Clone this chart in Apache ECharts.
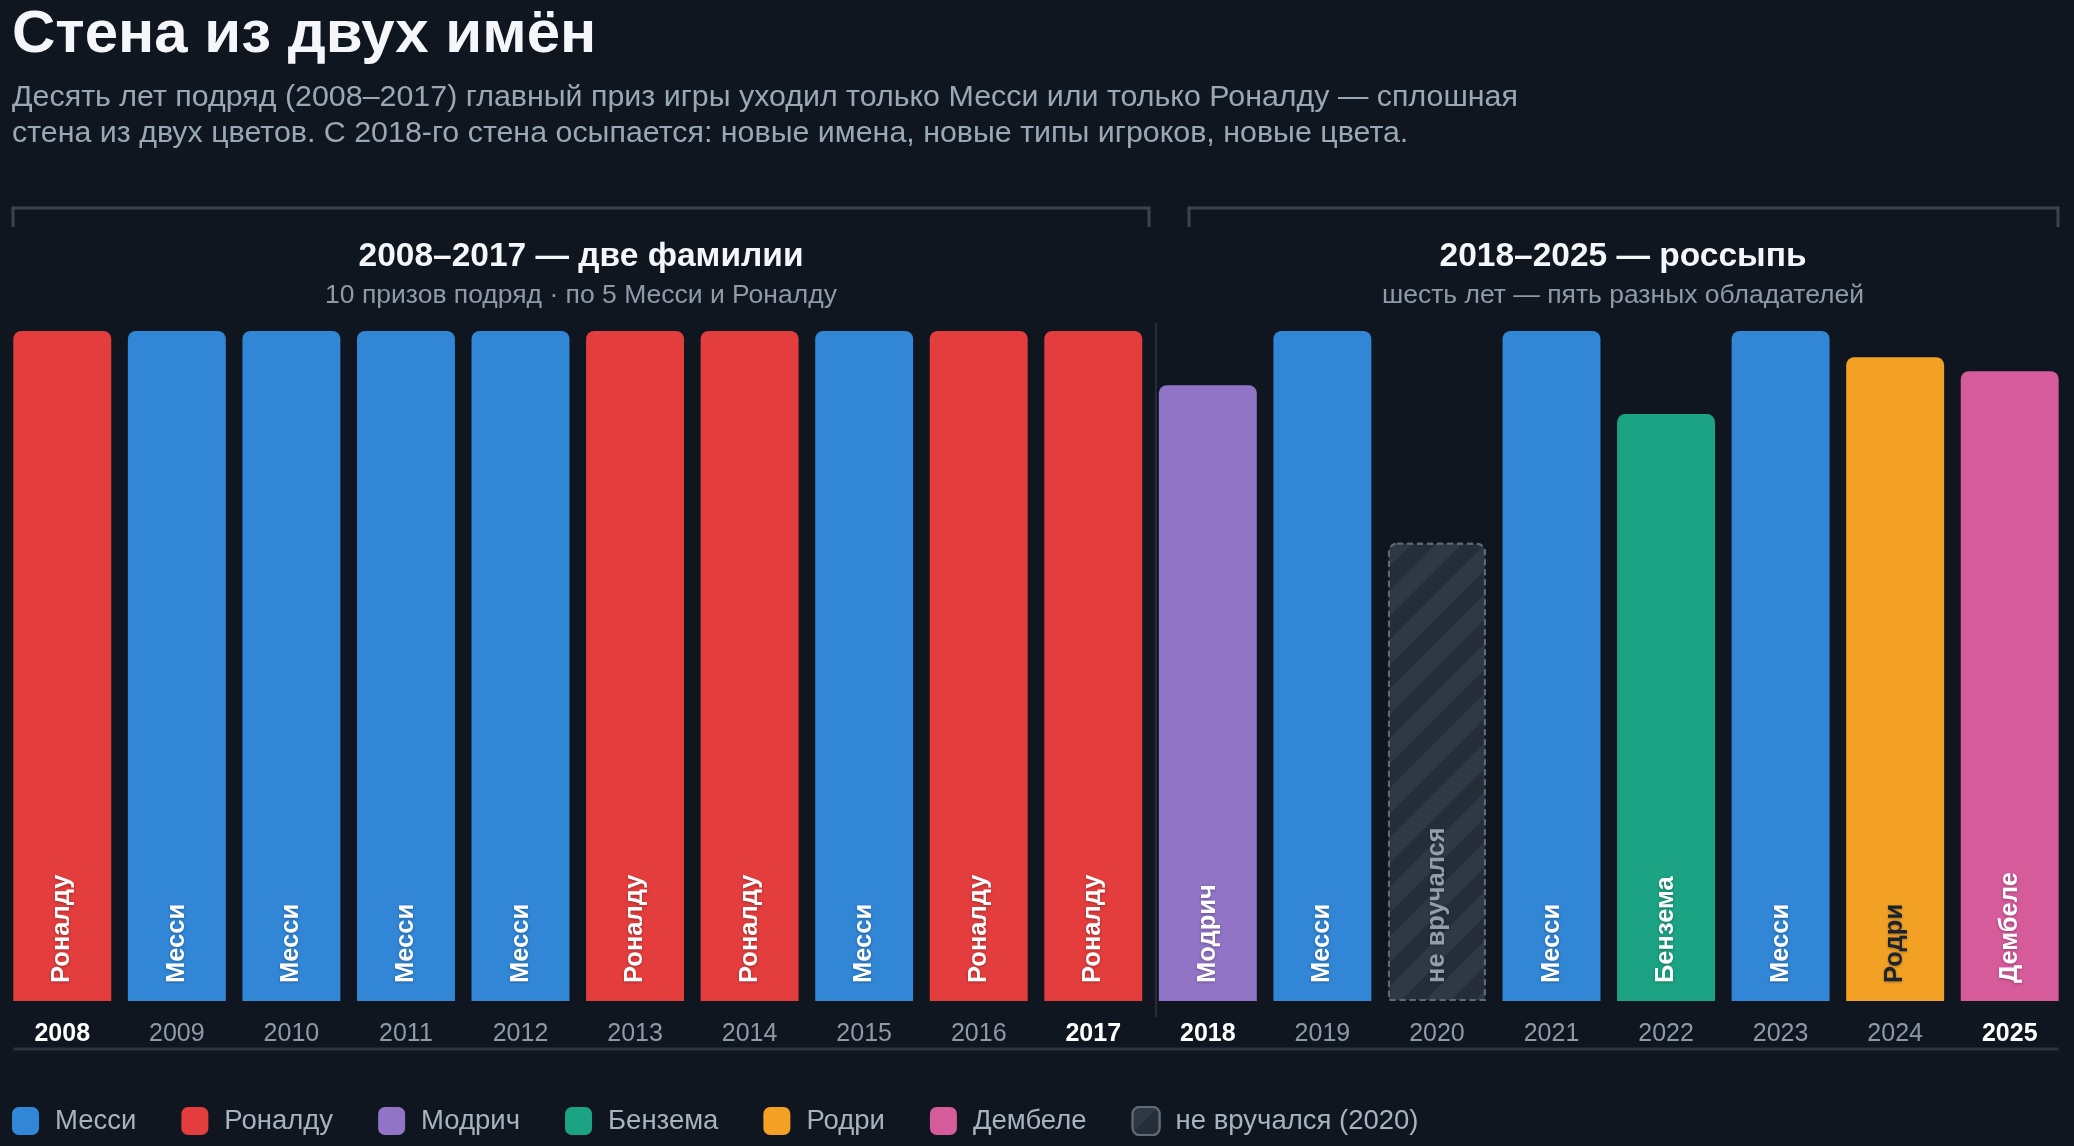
<!DOCTYPE html>
<html><head><meta charset="utf-8">
<script src="https://cdn.jsdelivr.net/npm/echarts@6/dist/echarts.min.js"></script>
<style>html,body{margin:0;padding:0;background:#0f1620;}#c{width:2074px;height:1146px;}</style>
</head><body><div id="c"></div>
<script>
// ---- data ----
const years = ['2008','2009','2010','2011','2012','2013','2014','2015','2016','2017','2018','2019','2020','2021','2022','2023','2024','2025'];
const winners = ['Роналду','Месси','Месси','Месси','Месси','Роналду','Роналду','Месси','Роналду','Роналду','Модрич','Месси','не вручался (2020)','Месси','Бензема','Месси','Родри','Дембеле'];
const values = [100,100,100,100,100,100,100,100,100,100,91.9,100,68.4,100,87.6,100,96.1,94.0];
const seriesNames = ['Месси','Роналду','Модрич','Бензема','Родри','Дембеле','не вручался (2020)'];
const barLabelTexts = ['Месси','Роналду','Модрич','Бензема','Родри','Дембеле','не вручался'];
const seriesColors = ['#3186d6','#e43d3d','#9274c6','#1ba383','#f2a124','#d65b9b','#252d38'];
const labelColors = ['#ffffff','#ffffff','#ffffff','#ffffff','#1b2330','#ffffff','#939eab'];
const highlightYears = ['2008','2017','2018','2025'];
const titleText = 'Стена из двух имён';
const subtitleLines = ['Десять лет подряд (2008–2017) главный приз игры уходил только Месси или только Роналду — сплошная','стена из двух цветов. С 2018-го стена осыпается: новые имена, новые типы игроков, новые цвета.'];
const groupTitles = ['2008–2017 — две фамилии','2018–2025 — россыпь'];
const groupSubtitles = ['10 призов подряд · по 5 Месси и Роналду','шесть лет — пять разных обладателей'];

const FONT = "'Liberation Sans', Arial, sans-serif";
const chart = echarts.init(document.getElementById('c'), null, {renderer:'canvas'});

const series = seriesNames.map((name, si) => {
  const isNone = si === seriesNames.length - 1;
  return {
    name, type: 'bar', stack: 'all',
    barCategoryGap: '14.5%',
    data: years.map((y, i) => winners[i] === name ? values[i] : null),
    itemStyle: Object.assign({
      color: seriesColors[si],
      borderRadius: [8, 8, 0, 0]
    }, isNone ? {
      borderColor: '#5e6a78', borderWidth: 2, borderType: [6, 4],
      decal: { symbol: 'rect', symbolSize: 1, dashArrayX: [1, 0], dashArrayY: [18, 17], rotation: -Math.PI / 4, color: '#2f3945' }
    } : {}),
    label: {
      show: true, position: 'insideBottom', distance: 18, rotate: 90,
      align: 'left', verticalAlign: 'middle',
      formatter: () => barLabelTexts[si],
      color: labelColors[si], fontFamily: FONT, fontSize: 25.5, fontWeight: 'bold',
      textShadowColor: 'rgba(0,0,0,0.3)', textShadowBlur: 3, textShadowOffsetY: 1
    },
    emphasis: { disabled: true }
  };
});

const rich = {
  b: { color: '#ffffff', fontWeight: 'bold', fontSize: 25, fontFamily: FONT },
  n: { color: '#8e9aa8', fontSize: 25, fontFamily: FONT }
};

chart.setOption({
  backgroundColor: '#0f1620',
  animation: false,
  grid: { left: 5, right: 7, top: 331, bottom: 145 },
  xAxis: {
    type: 'category', data: years,
    axisLine: { show: false }, axisTick: { show: false },
    axisLabel: {
      margin: 21, interval: 0,
      formatter: v => highlightYears.includes(v) ? '{b|' + v + '}' : '{n|' + v + '}',
      rich
    }
  },
  yAxis: { type: 'value', min: 0, max: 100, show: false },
  legend: {
    left: 12, top: 1106, padding: 0, itemWidth: 27, itemHeight: 28, itemGap: 45, icon: 'roundRect',
    textStyle: { color: '#a7b3bf', fontSize: 27.5, fontFamily: FONT, padding: [0, 0, 0, 11] },
    selectedMode: false,
    data: seriesNames
  },
  series
});

// annotation layout derived from the axis
const px = y => chart.convertToPixel({ xAxisIndex: 0 }, y);
const pitch = px(years[1]) - px(years[0]);
const barW = pitch * (1 - 0.145);
const firstLeft = px(years[0]) - barW / 2;
const lastRight = px(years[years.length - 1]) + barW / 2;
const splitX = px('2018') - barW / 2 - 3;

chart.setOption({
  graphic: [
    { type: 'text', style: { text: titleText, x: 12, y: 35, font: 'bold 60px ' + FONT, fill: '#f4f6f9', textVerticalAlign: 'middle' } },
    { type: 'text', style: { text: subtitleLines[0], x: 12, y: 98, font: '30.4px ' + FONT, fill: '#9aa8b6', textVerticalAlign: 'middle' } },
    { type: 'text', style: { text: subtitleLines[1], x: 12, y: 134, font: '30.4px ' + FONT, fill: '#9aa8b6', textVerticalAlign: 'middle' } },
    { type: 'polyline', shape: { points: [[13, 227], [13, 208], [1149, 208], [1149, 227]] }, style: { stroke: '#3a444f', lineWidth: 3, fill: null } },
    { type: 'polyline', shape: { points: [[1189, 227], [1189, 208], [2058, 208], [2058, 227]] }, style: { stroke: '#3a444f', lineWidth: 3, fill: null } },
    { type: 'text', style: { text: groupTitles[0], x: 581, y: 257, font: 'bold 33.5px ' + FONT, fill: '#f4f6f9', textAlign: 'center', textVerticalAlign: 'middle' } },
    { type: 'text', style: { text: groupSubtitles[0], x: 581, y: 296, font: '26.5px ' + FONT, fill: '#8e9aa8', textAlign: 'center', textVerticalAlign: 'middle' } },
    { type: 'text', style: { text: groupTitles[1], x: 1623, y: 257, font: 'bold 33.5px ' + FONT, fill: '#f4f6f9', textAlign: 'center', textVerticalAlign: 'middle' } },
    { type: 'text', style: { text: groupSubtitles[1], x: 1623, y: 296, font: '26.5px ' + FONT, fill: '#8e9aa8', textAlign: 'center', textVerticalAlign: 'middle' } },
    { type: 'line', shape: { x1: splitX, y1: 323, x2: splitX, y2: 1017 }, style: { stroke: '#262f3a', lineWidth: 2 } },
    { type: 'rect', shape: { x: firstLeft, y: 1047.5, width: lastRight - firstLeft, height: 3 }, style: { fill: '#2a323d' } }
  ]
});
</script></body></html>
